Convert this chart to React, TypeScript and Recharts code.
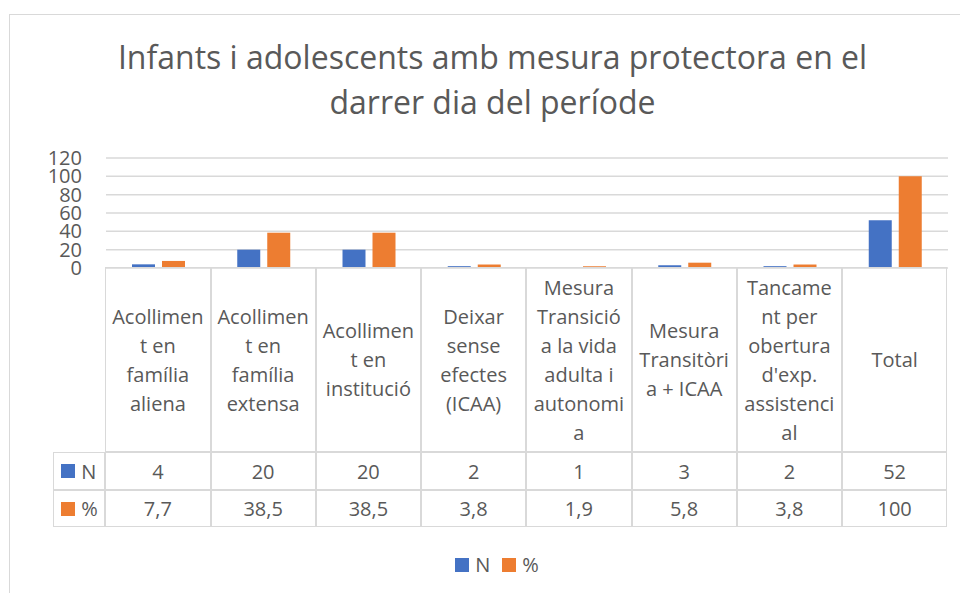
import React from 'react';
import { BarChart, Bar, XAxis, YAxis, CartesianGrid } from 'recharts';

const categories = [
  'Acollimen\nt en\nfamília\naliena',
  'Acollimen\nt en\nfamília\nextensa',
  'Acollimen\nt en\ninstitució',
  'Deixar\nsense\nefectes\n(ICAA)',
  'Mesura\nTransició\na la vida\nadulta i\nautonomi\na',
  'Mesura\nTransitòri\na + ICAA',
  'Tancame\nnt per\nobertura\nd\'exp.\nassistenci\nal',
  'Total',
];
const countN = [4, 20, 20, 2, 1, 3, 2, 52];
const percent = [7.7, 38.5, 38.5, 3.8, 1.9, 5.8, 3.8, 100];
const percentLabels = ['7,7', '38,5', '38,5', '3,8', '1,9', '5,8', '3,8', '100'];
const yTicks = [0, 20, 40, 60, 80, 100, 120];

const TITLE_LINES = ['Infants i adolescents amb mesura protectora en el', 'darrer dia del període'];
const COLORS = ['#4472c4', '#ed7d31']; // N blue, % orange
const TEXT = '#595959';
const LINE = '#d9d9d9';
const FONT = '"Open Sans", sans-serif';

const PLOT_LEFT = 106;
const PLOT_RIGHT = 948;
const PLOT_TOP = 158;
const PLOT_BOTTOM = 268;
const COL_W = (PLOT_RIGHT - PLOT_LEFT) / categories.length;
const HEADER_BOTTOM = 453;
const ROW_N_BOTTOM = 490.5;
const ROW_P_BOTTOM = 528;
const KEY_LEFT = 54;

const data = categories.map((c, i) => ({ name: c, n: countN[i], p: percent[i] }));

const Swatch: React.FC<{ color: string }> = ({ color }) => (
  <span style={{ display: 'inline-block', width: 14, height: 14, background: color, flex: 'none' }} />
);

const App: React.FC = () => {
  const cell = (left: number, top: number, width: number, height: number, content: React.ReactNode, key: string) => (
    <div
      key={key}
      style={{
        position: 'absolute', left, top, width, height, boxSizing: 'border-box',
        border: `1.5px solid ${LINE}`, marginLeft: -0.75, marginTop: -0.75,
        display: 'flex', alignItems: 'center', justifyContent: 'center', textAlign: 'center',
        color: TEXT, fontSize: 20, lineHeight: '29px', whiteSpace: 'pre',
      }}
    >
      {content}
    </div>
  );

  const rows = [
    { label: 'N', color: COLORS[0], values: countN.map(String), top: HEADER_BOTTOM, bottom: ROW_N_BOTTOM },
    { label: '%', color: COLORS[1], values: percentLabels, top: ROW_N_BOTTOM, bottom: ROW_P_BOTTOM },
  ];

  return (
    <div style={{ position: 'absolute', left: 0, top: 0, width: 960, height: 593, background: '#fff', fontFamily: FONT, overflow: 'hidden' }}>
      {/* chart frame */}
      <div style={{ position: 'absolute', left: 8.5, top: 13.5, width: 1000, height: 700, border: `1.5px solid ${LINE}` }} />

      <div style={{ position: 'absolute', left: 9, top: 34, width: 967, textAlign: 'center', color: TEXT, fontSize: 32, lineHeight: '45px' }}>
        {TITLE_LINES[0]}
        <br />
        {TITLE_LINES[1]}
      </div>

      <div style={{ position: 'absolute', left: 0, top: 0 }}>
        <BarChart
          width={960}
          height={280}
          data={data}
          margin={{ top: PLOT_TOP, bottom: 280 - PLOT_BOTTOM, left: PLOT_LEFT - 60, right: 960 - PLOT_RIGHT }}
          barGap={7}
        >
          <CartesianGrid vertical={false} stroke={LINE} strokeWidth={1.5} />
          <XAxis dataKey="name" hide />
          <YAxis
            width={60}
            domain={[0, 120]}
            ticks={yTicks}
            interval={0}
            axisLine={false}
            tickLine={false}
            tickSize={0}
            tickMargin={24}
            tick={{ fill: TEXT, fontSize: 20, fontFamily: FONT }}
          />
          <Bar dataKey="n" name="N" fill={COLORS[0]} barSize={23} isAnimationActive={false} />
          <Bar dataKey="p" name="%" fill={COLORS[1]} barSize={23} isAnimationActive={false} />
        </BarChart>
      </div>

      {/* data table */}
      {categories.map((c, i) =>
        cell(PLOT_LEFT + i * COL_W, PLOT_BOTTOM, COL_W, HEADER_BOTTOM - PLOT_BOTTOM, c, `h${i}`)
      )}
      {rows.map((r) => (
        <React.Fragment key={r.label}>
          {cell(
            KEY_LEFT, r.top, PLOT_LEFT - KEY_LEFT, r.bottom - r.top,
            <span style={{ display: 'flex', alignItems: 'center', gap: 6, width: '100%', paddingLeft: 7 }}>
              <Swatch color={r.color} />
              <span>{r.label}</span>
            </span>,
            `k${r.label}`
          )}
          {r.values.map((v, i) => cell(PLOT_LEFT + i * COL_W, r.top, COL_W, r.bottom - r.top, v, `${r.label}${i}`))}
        </React.Fragment>
      ))}

      {/* legend */}
      <div style={{ position: 'absolute', left: 0, top: 551, width: 994, display: 'flex', justifyContent: 'center', alignItems: 'center', gap: 12, color: TEXT, fontSize: 20, lineHeight: '28px' }}>
        {['N', '%'].map((l, i) => (
          <span key={l} style={{ display: 'flex', alignItems: 'center', gap: 6 }}>
            <Swatch color={COLORS[i]} />
            <span>{l}</span>
          </span>
        ))}
      </div>
    </div>
  );
};

export default App;
